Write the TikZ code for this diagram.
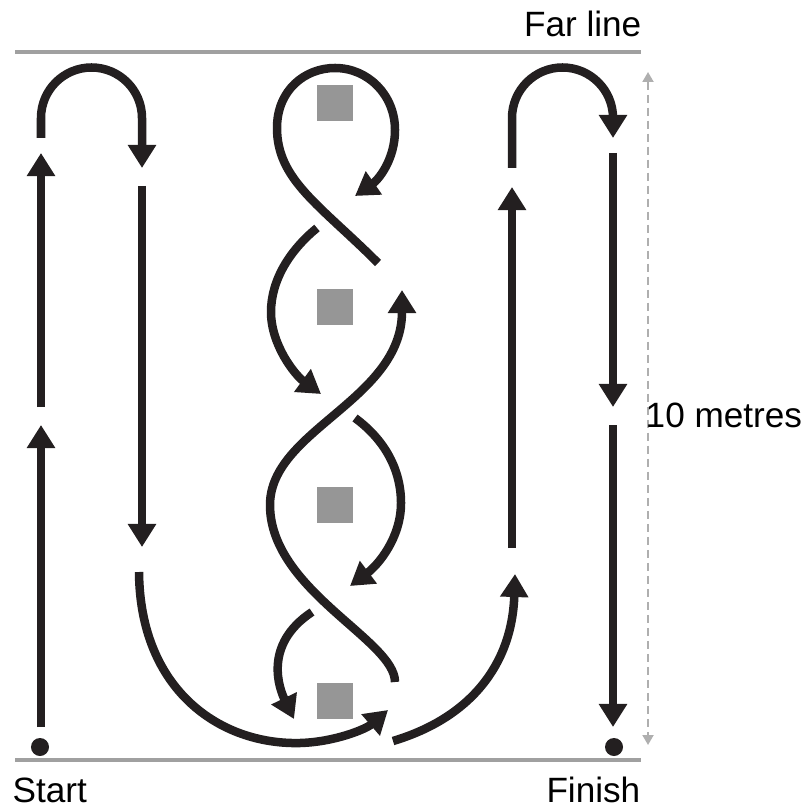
\documentclass[tikz,border=0pt]{standalone}
\usepackage{fontspec}
\setmainfont{Liberation Sans}
\usetikzlibrary{arrows.meta}
\definecolor{ink}{RGB}{35,31,32}
\definecolor{linegray}{RGB}{160,160,160}
\definecolor{conegray}{RGB}{150,150,150}
\definecolor{measuregray}{RGB}{175,175,175}
\begin{document}
\begin{tikzpicture}[x=0.01cm, y=-0.01cm,
        run/.style={draw=ink, line width=0.085cm, -{Triangle[length=0.23cm, width=0.27cm]}},
        boundary/.style={draw=linegray, line width=0.035cm},
        measure/.style={draw=measuregray, line width=0.02cm, dash pattern=on 0.08cm off 0.05cm,
            {Triangle[length=0.1cm, width=0.11cm]}-{Triangle[length=0.1cm, width=0.11cm]}},
        cone/.style={fill=conegray, minimum size=0.36cm, inner sep=0pt},
        spot/.style={circle, fill=ink, minimum size=0.18cm, inner sep=0pt},
        txt/.style={inner sep=0pt, font=\fontsize{10}{12}\selectfont}]
    \useasboundingbox (0, 0) rectangle (807, 807);

    % far line and start line
    \draw[boundary] (15, 52) -- (641, 52);
    \draw[boundary] (15, 760) -- (641, 760);
    \node[txt, anchor=base east] (farline) at (642, 37) {Far line};
    \node[txt, anchor=base west] (start) at (12, 802) {Start};
    \node[txt, anchor=base east] (finish) at (641, 802) {Finish};

    % 10 metres
    \draw[measure] (648, 72) -- (648, 745);
    \node[txt, anchor=base west] (distance) at (645, 427) {10 metres};

    % cones
    \foreach \y in {103, 307, 505, 701}
        \node[cone] (cone\y) at (335, \y) {};

    \node[spot] (startspot) at (40, 747) {};
    \node[spot] (finishspot) at (614, 747) {};

    % out and back on the left
    \draw[run] (41, 727) -- (41, 425);
    \draw[run] (41, 407) -- (41, 153);
    \draw[run] (41, 138) -- (41, 118) .. controls (41, 90.1) and (63.6, 67.5) .. (91.5, 67.5)
        .. controls (119.4, 67.5) and (142, 90.1) .. (142, 118) -- (142, 168);
    \draw[run] (142, 186) -- (142, 547);
    \draw[run] (139, 572) .. controls (140, 690) and (220, 745) .. (300, 743)
        .. controls (335, 742) and (366, 729) .. (388, 710);

    % weave through the cones
    \draw[run] (378, 263) .. controls (320, 205) and (277, 180) .. (277, 128)
        .. controls (277, 90) and (305, 68) .. (335, 68)
        .. controls (368, 68) and (395, 95) .. (395, 130)
        .. controls (395, 160) and (378, 180) .. (355, 196);
    \draw[run] (317, 228) .. controls (290, 250) and (271, 280) .. (271, 312)
        .. controls (271, 345) and (295, 375) .. (321, 394);
    \draw[run] (395, 682) .. controls (395, 640) and (270, 590) .. (270, 505)
        .. controls (270, 430) and (402, 400) .. (402, 290);
    \draw[run] (355, 418) .. controls (385, 440) and (401, 470) .. (401, 503)
        .. controls (401, 538) and (378, 565) .. (350, 586);
    \draw[run] (312, 612) .. controls (262, 645) and (280, 690) .. (294, 719);

    % out and back on the right
    \draw[run] (393, 741) .. controls (470, 718) and (512, 665) .. (515, 574);
    \draw[run] (512, 548) -- (512, 187);
    \draw[run] (512, 168) -- (512, 118) .. controls (512, 90.1) and (534.6, 67.5) .. (562.5, 67.5)
        .. controls (590.4, 67.5) and (613, 90.1) .. (613, 118) -- (613, 138);
    \draw[run] (613, 153) -- (613, 407);
    \draw[run] (613, 425) -- (613, 727);
\end{tikzpicture}
\end{document}
